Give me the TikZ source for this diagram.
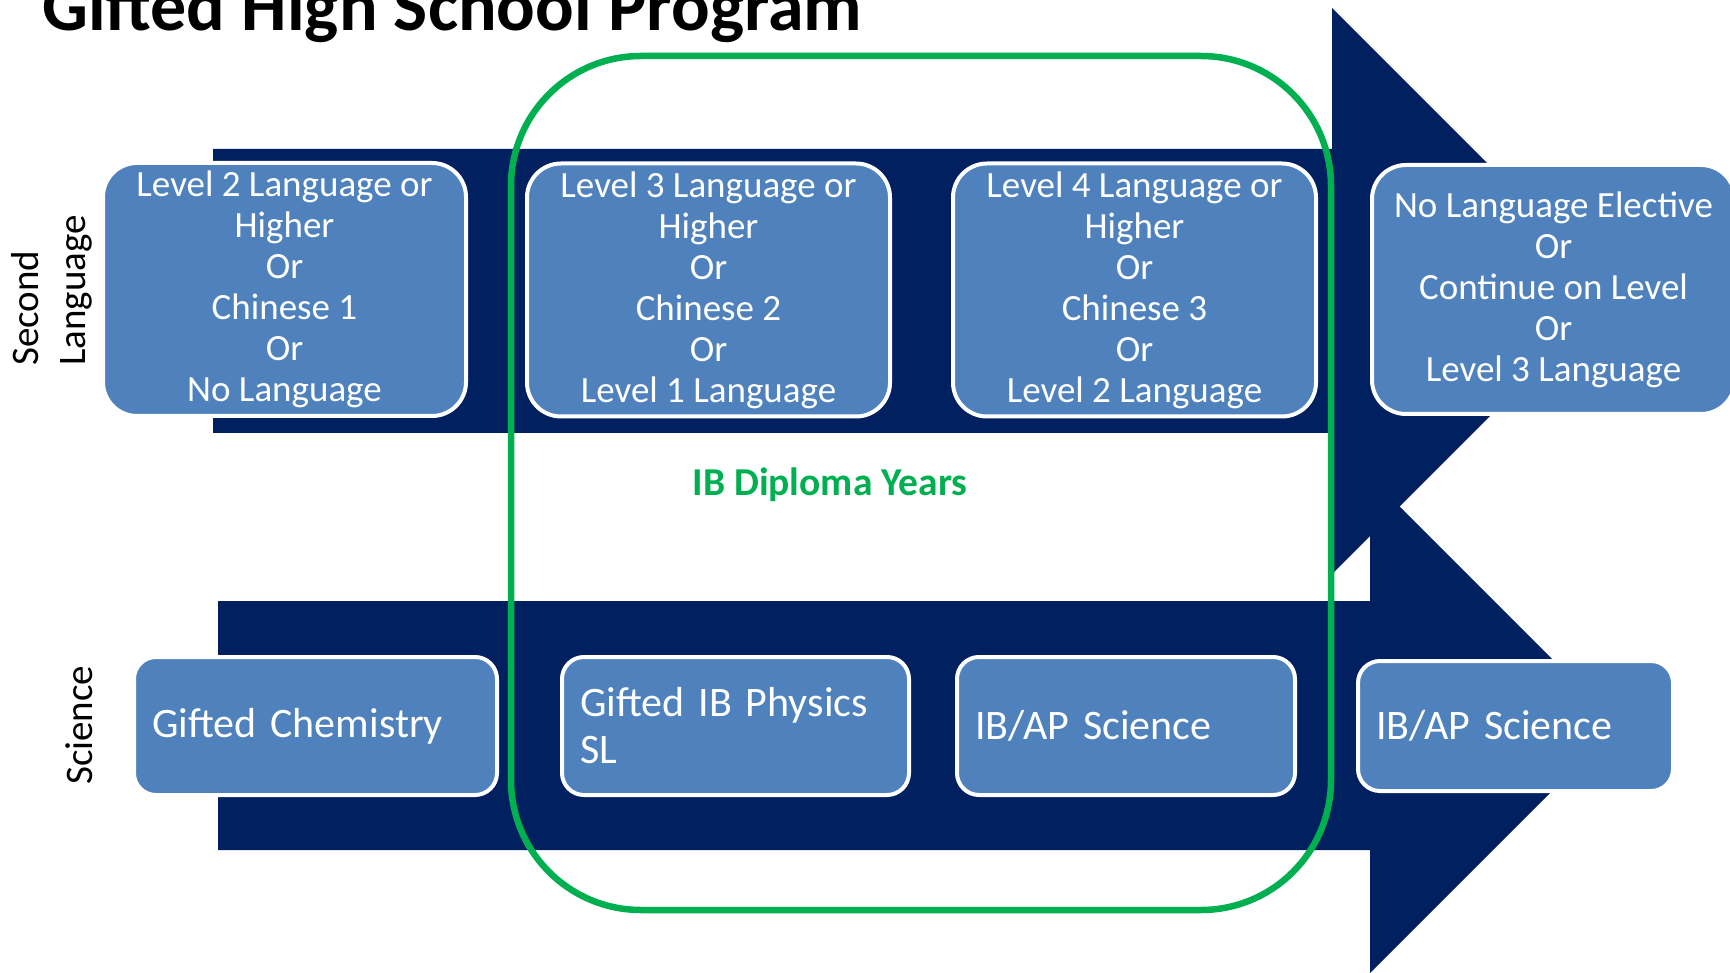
\documentclass[tikz,border=0pt]{standalone}
\usepackage{fontspec}
\setmainfont{Carlito}
\definecolor{navy}{HTML}{002060}
\definecolor{boxblue}{HTML}{4F81BD}
\definecolor{ibgreen}{HTML}{00B050}
\begin{document}
\begin{tikzpicture}[x=1pt,y=-1pt,
  arrowshape/.style={fill=navy, draw=none},
  langbox/.style={rectangle, rounded corners=34pt, fill=boxblue, draw=white, line width=4pt, text=white, align=center, minimum width=363pt, minimum height=253pt, inner sep=0pt, font=\fontsize{37}{41}\selectfont},
  scibox/.style={rectangle, rounded corners=22pt, fill=boxblue, draw=white, line width=4pt, text=white, align=left, minimum height=138pt, inner ysep=0pt, inner xsep=18pt, font=\fontsize{42}{47}\selectfont},
  sidelabel/.style={rotate=90, anchor=west, align=left, inner sep=0pt, font=\fontsize{39}{47}\selectfont},
  frame/.style={draw=ibgreen, line width=6.5pt, rounded corners=130pt, rectangle, inner sep=0pt}
]
\clip (0,0) rectangle (1730,973);
% arrows
\fill[arrowshape] (213,149) -- (1332,149) -- (1332,8) -- (1615,291) -- (1332,574) -- (1332,433) -- (213,433) -- cycle;
\fill[arrowshape] (218,601) -- (1370,601) -- (1370,477) -- (1618,725) -- (1370,973) -- (1370,850) -- (218,850) -- cycle;
% title
\node[anchor=base west, inner sep=0pt, font=\bfseries\fontsize{72}{86}\selectfont] (title) at (42,31) {Gifted High School Program};
% side labels
\node[sidelabel] (lang) at (52,366) {Second\\Language};
\node[sidelabel] (sci) at (79,785) {Science};
% language boxes
\node[langbox] (l1) at (284.5,289.5) {Level 2 Language or\\Higher\\Or\\Chinese 1\\Or\\No Language};
\node[langbox] (l2) at (708.5,290) {Level 3 Language or\\Higher\\Or\\Chinese 2\\Or\\Level 1 Language};
\node[langbox] (l3) at (1134.5,290) {Level 4 Language or\\Higher\\Or\\Chinese 3\\Or\\Level 2 Language};
\node[langbox, minimum height=249pt] (l4) at (1553.5,289.5) {No Language Elective\\Or\\Continue on Level\\Or\\Level 3 Language};
% science boxes
\node[scibox, minimum width=363pt, text width=327pt] (s1) at (315.5,726) {Gifted Chemistry};
\node[scibox, minimum width=347pt, text width=311pt] (s2) at (735.5,726) {Gifted IB Physics\\SL};
\node[scibox, minimum width=338pt, text width=302pt] (s3) at (1126,726) {IB/AP Science};
\node[scibox, minimum width=315pt, minimum height=130pt, text width=279pt] (s4) at (1515.5,726) {IB/AP Science};
% IB frame
\node[frame, minimum width=820pt, minimum height=854pt] (ibframe) at (921,483) {};
\node[text=ibgreen, font=\bfseries\fontsize{39.5}{47}\selectfont] (ib) at (830,485) {IB Diploma Years};
\end{tikzpicture}
\end{document}
